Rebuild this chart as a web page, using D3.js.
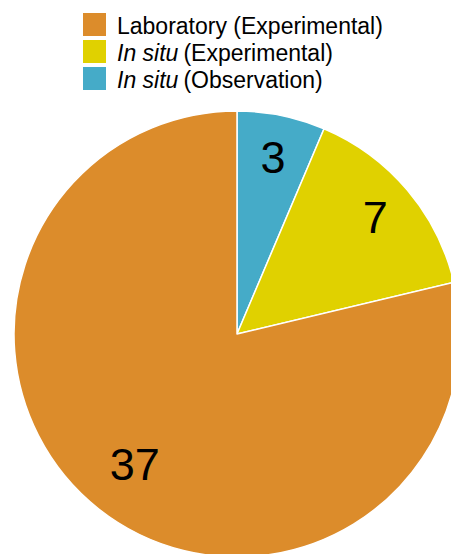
<!DOCTYPE html>
<html><head><meta charset="utf-8">
<script src="https://cdn.jsdelivr.net/npm/d3@7"></script>
<style>body{margin:0;background:#fff}svg{display:block}</style>
</head><body>
<script>
const categories = ["In situ (Observation)", "In situ (Experimental)", "Laboratory (Experimental)"];
const values = [3, 7, 37];
const colors = ["#45ABC8", "#E0D100", "#DC8C2B"];
const legendOrder = [2, 1, 0];
const legendItalic = ["", "In situ", "In situ"];
const legendRest = ["Laboratory (Experimental)", "(Experimental)", "(Observation)"];

const W = 451, H = 554;
const svg = d3.select("body").append("svg").attr("width", W).attr("height", H);
const cx = 237, cy = 334, R = 223;
const g = svg.append("g").attr("transform", `translate(${cx},${cy})`);
const pie = d3.pie().sort(null).value(d => d)(values);
const arc = d3.arc().innerRadius(0).outerRadius(R);
g.selectAll("path").data(pie).join("path")
  .attr("d", arc).attr("fill", (d, i) => colors[i])
  .attr("stroke", "#fff").attr("stroke-width", 1.5).attr("stroke-linejoin", "round");
g.selectAll("text").data(pie).join("text")
  .attr("transform", d => {
    const r = (d.endAngle - d.startAngle) > Math.PI ? 165 : 181;
    const a = (d.startAngle + d.endAngle) / 2;
    return `translate(${r * Math.sin(a)},${-r * Math.cos(a)})`;
  })
  .attr("text-anchor", "middle").attr("dy", "0.36em")
  .attr("font-family", "Liberation Sans, Arial, sans-serif").attr("font-size", 45)
  .attr("fill", "#000").text(d => d.data);

const lg = svg.append("g");
legendOrder.forEach((ci, k) => {
  const y = 13 + k * 27;
  lg.append("rect").attr("x", 83).attr("y", y).attr("width", 23).attr("height", 23).attr("fill", colors[ci]);
  const t = lg.append("text").attr("x", 117).attr("y", y + 20.5)
    .attr("font-family", "Liberation Sans, Arial, sans-serif").attr("font-size", 23).attr("fill", "#000");
  if (legendItalic[k]) {
    t.append("tspan").attr("font-style", "italic").text(legendItalic[k]);
    t.append("tspan").attr("dx", 5).text(legendRest[k]);
  } else {
    t.text(legendRest[k]);
  }
});
</script>
</body></html>
